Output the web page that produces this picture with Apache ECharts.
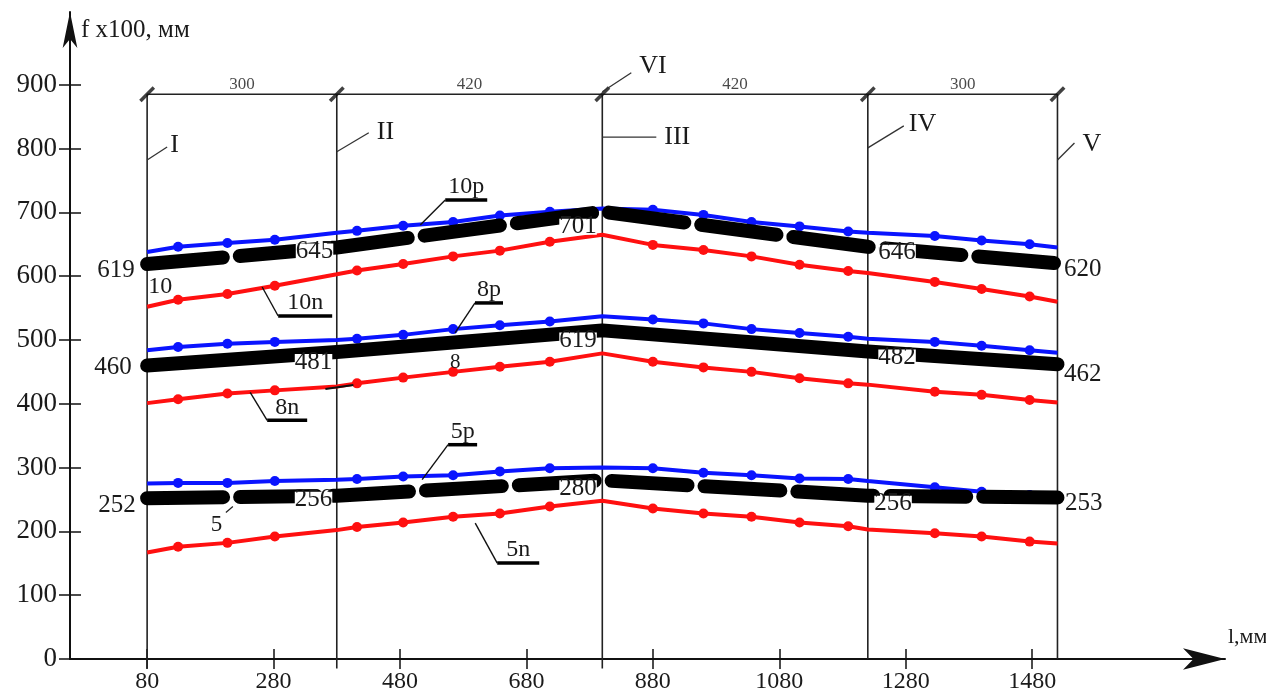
<!DOCTYPE html>
<html><head><meta charset="utf-8">
<script src="https://cdn.jsdelivr.net/npm/echarts@6/dist/echarts.min.js"></script>
<style>html,body{margin:0;padding:0;background:#fff}#c{width:1266px;height:697px}</style>
</head><body><div id="c"></div>
<script>
// ---------- data ----------
const sectionX = [80, 380, 800, 1220, 1520];
const spanLabels = ['300', '420', '420', '300'];
const bracketLevel = 885;
const sectionBottom = [-15, -15, -15, 0, 0];
const xTicks = [80, 280, 480, 680, 880, 1080, 1280, 1480];
const yTicks = [0, 100, 200, 300, 400, 500, 600, 700, 800, 900];

const xPts = [80, 129, 207, 282, 380, 412, 485, 564, 638, 717, 800, 880, 960, 1036, 1112, 1189, 1220, 1326, 1400, 1476, 1520];
const p10 = [638, 646, 652, 657, 668, 671, 679, 685, 695, 701, 706, 704, 696, 685, 678, 670, 668, 663, 656, 650, 645];
const n10 = [552, 563, 572, 585, 603, 609, 619, 631, 640, 654, 665, 649, 641, 631, 618, 608, 605, 591, 580, 568, 560];
const p8  = [484, 489, 494, 497, 500, 502, 508, 517, 523, 529, 537, 532, 526, 517, 511, 505, 502, 497, 491, 484, 480];
const n8  = [401, 407, 416, 421, 427, 432, 441, 450, 458, 466, 479, 466, 457, 450, 440, 432, 430, 419, 414, 406, 402];
const p5  = [275, 276, 276, 279, 281, 282, 286, 288, 294, 299, 300, 299, 292, 288, 283, 282, 279, 269, 262, 257, 251];
const n5  = [167, 176, 182, 192, 202, 207, 214, 223, 228, 239, 248, 236, 228, 223, 214, 208, 203, 197, 192, 184, 181];

const b10 = [619, 645, 701, 646, 620];
const b10Labels = ['619', '645', '701', '646', '620'];
const b8 = [460, 481, 515, 482, 462];
const b8Labels = ['460', '481', '619', '482', '462'];
const b5 = [252, 256, 280, 256, 253];
const b5Labels = ['252', '256', '280', '256', '253'];

// ---------- styling / layout ----------
const FONT = "'Liberation Serif','DejaVu Serif',serif";
const TXT = '#1a1a1a';
const BLUE = '#0a14ff';
const RED = '#ff1010';
const sectionIdx = [0, 4, 10, 16, 20];
const X_MIN = -42, X_MAX = 1785, Y_MAX = 1014;

const labelLayout = [
  [['left',12,[0,6]], ['left',3,[0,4]], ['left',5,[0,15]], ['right',10,[0,6]], ['right',6,[0,6]]],
  [['left',15,[0,2]], ['left',4,[0,10]], ['left',5,[0,10]], ['right',10,[0,6]], ['right',6,[0,10]]],
  [['left',11,[0,7]], ['left',4,[0,4]], ['left',5,[0,8]], ['right',6,[0,8]], ['right',7,[0,6]]]
];

function colored(name, vals, color) {
  return {
    name, type: 'line', z: 2,
    data: xPts.map((x, i) => ({ value: [x, vals[i]], symbol: sectionIdx.includes(i) ? 'none' : 'circle' })),
    symbolSize: 10, showAllSymbol: true,
    lineStyle: { color, width: 4 }, itemStyle: { color },
    emphasis: { disabled: true }, animation: false
  };
}
function black(name, vals, texts, layout, dashed) {
  return {
    name, type: 'line', z: 4, symbol: 'circle', symbolSize: 1, showAllSymbol: true,
    itemStyle: { color: 'rgba(0,0,0,0)' },
    data: sectionX.map((x, i) => ({
      value: [x, vals[i]],
      label: {
        show: true, formatter: texts[i], position: layout[i][0], distance: layout[i][1], offset: layout[i][2],
        fontFamily: FONT, fontSize: 25, color: TXT, lineHeight: 16,
        backgroundColor: '#fff', padding: 0
      }
    })),
    lineStyle: { color: '#000', width: 14, type: dashed ? [76, 17] : 'solid', cap: 'round', join: 'round' },
    emphasis: { disabled: true }, animation: false
  };
}

const series = [
  colored('10p', p10, BLUE), colored('10n', n10, RED),
  colored('8p', p8, BLUE), colored('8n', n8, RED),
  colored('5p', p5, BLUE), colored('5n', n5, RED),
  black('10', b10, b10Labels, labelLayout[0], true),
  black('8', b8, b8Labels, labelLayout[1], false),
  black('5', b5, b5Labels, labelLayout[2], true),
  {
    name: 'bracket', type: 'line', symbol: 'none', clip: false, z: 1,
    data: [[sectionX[0], bracketLevel], [sectionX[4], bracketLevel]],
    lineStyle: { color: '#222', width: 1.6 }, animation: false
  },
  ...sectionX.map((x, i) => ({
    name: 'sec' + i, type: 'line', symbol: 'none', clip: false, z: 1,
    data: [[x, bracketLevel], [x, sectionBottom[i]]],
    lineStyle: { color: '#222', width: 1.6 }, animation: false
  })),
  {
    name: 'slashes', type: 'scatter', z: 3, clip: false,
    data: sectionX.map(x => [x, bracketLevel]),
    symbol: 'rect', symbolSize: [3.5, 19], symbolRotate: -45,
    itemStyle: { color: '#111' }, animation: false
  },
  {
    name: 'spans', type: 'scatter', clip: false, symbolSize: 0,
    data: spanLabels.map((t, i) => [(sectionX[i] + sectionX[i + 1]) / 2, bracketLevel]),
    label: { show: true, position: 'top', distance: 1, formatter: p => spanLabels[p.dataIndex], fontFamily: FONT, fontSize: 17, color: TXT },
    animation: false
  }
];

const chart = echarts.init(document.getElementById('c'));
chart.setOption({
  backgroundColor: '#fff',
  animation: false,
  grid: { left: 70, right: 41, top: 12, bottom: 38, outerBoundsMode: 'none' },
  xAxis: [
    {
      type: 'value', min: X_MIN, max: X_MAX,
      axisLine: { onZero: false, lineStyle: { color: '#111', width: 2 }, symbol: ['none', 'arrow'], symbolSize: [16, 42] },
      axisTick: { show: true, customValues: xTicks, length: 10, lineStyle: { color: '#111', width: 1.5 } },
      axisLabel: { customValues: xTicks, margin: 11, fontFamily: FONT, fontSize: 24, color: TXT, formatter: v => String(v) },
      splitLine: { show: false }
    },
    {
      type: 'value', min: X_MIN, max: X_MAX, position: 'bottom',
      axisLine: { show: false, onZero: false },
      axisTick: { show: true, inside: true, customValues: xTicks, length: 10, lineStyle: { color: '#111', width: 1.5 } },
      axisLabel: { show: false }, splitLine: { show: false }
    }
  ],
  yAxis: [
    {
      type: 'value', min: 0, max: Y_MAX,
      axisLine: { show: true, onZero: false, lineStyle: { color: '#111', width: 2 }, symbol: ['none', 'arrow'], symbolSize: [11, 36] },
      axisTick: { show: true, customValues: yTicks, length: 11, lineStyle: { color: '#111', width: 1.5 } },
      axisLabel: { customValues: yTicks, margin: 13, fontFamily: FONT, fontSize: 27, color: TXT, formatter: v => String(v) },
      splitLine: { show: false }
    },
    {
      type: 'value', min: 0, max: Y_MAX, position: 'left',
      axisLine: { show: false, onZero: false },
      axisTick: { show: true, inside: true, customValues: yTicks, length: 11, lineStyle: { color: '#111', width: 1.5 } },
      axisLabel: { show: false }, splitLine: { show: false }
    }
  ],
  series
});

// ---------- annotations anchored through the chart's own scales ----------
const curveTags = [
  { at: [512, 680], d: [25, -25], text: '10p', ul: 42 },
  { at: [262, 583], d: [16, 29], text: '10n', ul: 54 },
  { at: [567, 511], d: [20, -30], text: '8p', ul: 28 },
  { at: [243, 418], d: [17, 28], text: '8n', ul: 40 },
  { at: [515, 281], d: [26, -35], text: '5p', ul: 29 },
  { at: [599, 213], d: [22, 40], text: '5n', ul: 42 }
];
const romanTags = [
  { at: [sectionX[0], 782], d: [20, -13], text: 'I', t: [3, -2] },
  { at: [sectionX[1], 795], d: [32, -19], text: 'II', t: [8, -1] },
  { at: [sectionX[2], 818], d: [54, 0], text: 'III', t: [8, 0] },
  { at: [sectionX[2], 889], d: [29, -19], text: 'VI', t: [8, -7] },
  { at: [sectionX[3], 801], d: [36, -22], text: 'IV', t: [5, -2] },
  { at: [sectionX[4], 782], d: [17, -17], text: 'V', t: [8, 1] }
];
const plainTags = [
  { at: [80, 619], t: [1, 11], text: '10', size: 24 },
  { at: [567, 496], t: [-5, 9], text: '8', size: 21 },
  { at: [184, 253], t: [-2, 16], text: '5', size: 23, lead: [[13, 15], [20, 9]] }
];
const stubs = [{ at: [362, 423], d: [28, -4] }];

const px = v => chart.convertToPixel({ gridIndex: 0 }, v);
const g = [];
curveTags.forEach(a => {
  const p = px(a.at), e = [p[0] + a.d[0], p[1] + a.d[1]];
  g.push({ type: 'line', shape: { x1: p[0], y1: p[1], x2: e[0], y2: e[1] }, style: { stroke: '#111', lineWidth: 1.4 }, z: 10 });
  g.push({ type: 'line', shape: { x1: e[0], y1: e[1], x2: e[0] + a.ul, y2: e[1] }, style: { stroke: '#000', lineWidth: 3.5 }, z: 10 });
  g.push({ type: 'text', x: e[0] + a.ul / 2, y: e[1] - 1, z: 10,
    style: { text: a.text, font: '24px ' + FONT, fill: TXT, align: 'center', verticalAlign: 'bottom' } });
});
romanTags.forEach(a => {
  const p = px(a.at), e = [p[0] + a.d[0], p[1] + a.d[1]];
  g.push({ type: 'line', shape: { x1: p[0], y1: p[1], x2: e[0], y2: e[1] }, style: { stroke: '#333', lineWidth: 1.3 }, z: 10 });
  g.push({ type: 'text', x: e[0] + a.t[0], y: e[1] + a.t[1], z: 10,
    style: { text: a.text, font: '26px ' + FONT, fill: TXT, align: 'left', verticalAlign: 'middle' } });
});
plainTags.forEach(a => {
  const p = px(a.at);
  g.push({ type: 'text', x: p[0] + a.t[0], y: p[1] + a.t[1], z: 10,
    style: { text: a.text, font: a.size + 'px ' + FONT, fill: TXT, align: 'left', verticalAlign: 'top' } });
  if (a.lead) g.push({ type: 'line', shape: { x1: p[0] + a.lead[0][0], y1: p[1] + a.lead[0][1], x2: p[0] + a.lead[1][0], y2: p[1] + a.lead[1][1] }, style: { stroke: '#222', lineWidth: 1.2 }, z: 10 });
});
stubs.forEach(a => {
  const p = px(a.at);
  g.push({ type: 'line', shape: { x1: p[0], y1: p[1], x2: p[0] + a.d[0], y2: p[1] + a.d[1] }, style: { stroke: '#111', lineWidth: 2 }, z: 10 });
});
// axis titles
const yTop = px([X_MIN, Y_MAX]);
g.push({ type: 'text', x: yTop[0] + 11, y: yTop[1] + 18, z: 10,
  style: { text: 'f x100, мм', font: '25px ' + FONT, fill: TXT, align: 'left', verticalAlign: 'middle' } });
const xEnd = px([X_MAX, 0]);
g.push({ type: 'text', x: xEnd[0] + 3, y: xEnd[1] - 22, z: 10,
  style: { text: 'l,мм', font: '22px ' + FONT, fill: TXT, align: 'left', verticalAlign: 'middle' } });
chart.setOption({ graphic: g });
</script>
</body></html>
